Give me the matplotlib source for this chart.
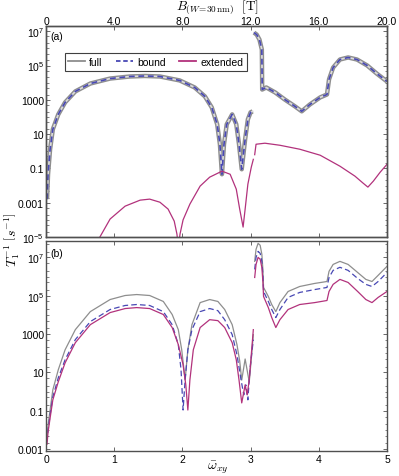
import numpy as np
import matplotlib
matplotlib.use("Agg")
import matplotlib.pyplot as plt
from matplotlib.lines import Line2D
from matplotlib.ticker import FixedLocator, LogLocator, NullFormatter

plt.rcParams['font.family'] = ['Liberation Sans', 'DejaVu Sans']
plt.rcParams['mathtext.fontset'] = 'custom'
plt.rcParams['mathtext.rm'] = 'Liberation Sans'
plt.rcParams['mathtext.it'] = 'Liberation Sans:italic'

# ---- dados (log10 da taxa 1/T1 em s^-1) ----
# painel (a): full e bound coincidem
a_full_w1 = [0.015, 0.03, 0.06, 0.10, 0.18, 0.28, 0.43, 0.65, 0.94, 1.23, 1.45, 1.67, 1.96,
             2.18, 2.33, 2.43, 2.51, 2.55, 2.58, 2.61, 2.65, 2.73, 2.79, 2.83, 2.87, 2.92,
             2.96, 3.00, 3.03]
a_full_l1 = [-2.79, -1.34, 0.12, 1.28, 2.15, 2.85, 3.49, 3.95, 4.24, 4.36, 4.39, 4.36, 4.13,
             3.72, 3.20, 2.56, 1.57, 0.41, -1.34, 0.41, 1.57, 2.15, 1.57, 0.41, -1.05, 0.70,
             1.86, 2.27, 2.33]
a_full_w2 = [3.05, 3.09, 3.13, 3.165, 3.17, 3.23, 3.36, 3.50, 3.65, 3.75, 3.87, 4.02, 4.12,
             4.15, 4.21, 4.31, 4.43, 4.56, 4.71, 4.85, 5.0]
a_full_l2 = [6.92, 6.80, 6.51, 5.93, 3.60, 3.72, 3.43, 3.02, 2.62, 2.33, 2.73, 3.14, 3.31,
             4.19, 4.88, 5.35, 5.47, 5.35, 5.00, 4.53, 4.07]

a_ext_w1 = [0.75, 0.79, 0.94, 1.16, 1.38, 1.52, 1.67, 1.79, 1.88, 1.92, 1.94, 1.965, 2.01,
            2.11, 2.26, 2.40, 2.58, 2.70, 2.79, 2.84, 2.89, 2.92, 2.96, 3.01, 3.04]
a_ext_l1 = [-5.6, -5.0, -3.95, -3.2, -2.85, -2.79, -2.97, -3.37, -4.07, -4.83, -5.6, -4.83,
            -4.0, -3.08, -2.03, -1.51, -1.16, -1.34, -2.21, -3.37, -4.42, -3.37, -1.92,
            -0.93, -0.47]
a_ext_w2 = [3.06, 3.08, 3.21, 3.43, 3.72, 4.02, 4.31, 4.53, 4.65, 4.72, 4.80, 4.90, 5.0]
a_ext_l2 = [-0.2, 0.41, 0.47, 0.35, 0.12, -0.23, -0.87, -1.45, -1.86, -2.09, -1.74, -1.22, -0.76]

# painel (b)
b_full_w1 = [0.015, 0.03, 0.06, 0.10, 0.18, 0.28, 0.43, 0.65, 0.94, 1.16, 1.33, 1.52, 1.72,
             1.85, 1.94, 1.99, 2.04, 2.08, 2.14, 2.26, 2.40, 2.52, 2.62, 2.73, 2.80, 2.84,
             2.87, 2.92, 2.98, 3.01, 3.04]
b_full_l1 = [-2.53, -1.74, -0.96, 0.09, 1.14, 2.18, 3.23, 4.17, 4.80, 5.01, 5.06, 5.01, 4.70,
             4.02, 3.23, 2.18, 0.61, 2.18, 3.49, 4.64, 4.80, 4.70, 4.28, 3.49, 2.45, 1.60,
             0.60, 1.70, 0.50, 1.70, 2.97]
b_bound_w1 = [0.015, 0.03, 0.06, 0.10, 0.18, 0.28, 0.43, 0.65, 0.94, 1.16, 1.33, 1.52, 1.72,
              1.85, 1.94, 1.98, 2.01, 2.04, 2.08, 2.14, 2.26, 2.40, 2.52, 2.62, 2.73, 2.80,
              2.86, 2.90, 2.93, 2.96, 2.99, 3.04]
b_bound_l1 = [-2.6, -2.0, -1.22, -0.28, 0.72, 1.66, 2.71, 3.65, 4.28, 4.49, 4.54, 4.49, 4.17,
              3.49, 2.45, 1.14, -0.96, 0.61, 2.18, 3.23, 4.17, 4.33, 4.22, 3.75, 2.97, 1.92,
              0.61, -0.17, 0.35, -0.43, 1.14, 2.71]
b_ext_w1 = [0.015, 0.03, 0.06, 0.10, 0.18, 0.28, 0.43, 0.65, 0.94, 1.16, 1.33, 1.52, 1.72,
            1.85, 1.94, 2.01, 2.05, 2.08, 2.11, 2.16, 2.26, 2.40, 2.52, 2.62, 2.73, 2.79,
            2.83, 2.87, 2.92, 2.95, 2.98, 3.01, 3.04]
b_ext_l1 = [-2.74, -2.11, -1.38, -0.43, 0.51, 1.50, 2.55, 3.49, 4.12, 4.33, 4.38, 4.33, 4.02,
            3.34, 2.45, 1.40, 0.35, -0.96, 0.61, 2.18, 3.34, 3.75, 3.70, 3.34, 2.55, 1.66,
            0.61, -0.59, 0.35, -0.17, 0.61, 1.92, 3.23]
b_w2 = [3.06, 3.08, 3.11, 3.14, 3.165, 3.18, 3.19, 3.26, 3.31, 3.37, 3.43, 3.55, 3.72, 3.94,
        4.12, 4.15, 4.21, 4.31, 4.43, 4.57, 4.69, 4.78, 4.87, 5.0]
b_full_l2 = [6.79, 7.42, 7.73, 7.63, 7.16, 6.37, 5.43, 4.96, 4.54, 4.17, 4.64, 5.22, 5.48, 5.64,
             5.74, 6.27, 6.63, 6.79, 6.63, 6.21, 5.85, 5.74, 6.06, 6.53]
b_bound_l2 = [6.37, 7.00, 7.31, 7.21, 6.79, 6.11, 5.22, 4.70, 4.28, 3.86, 4.28, 4.91, 5.17, 5.32,
              5.43, 5.95, 6.32, 6.48, 6.32, 5.90, 5.59, 5.48, 5.74, 6.21]
b_ext_l2 = [5.95, 6.63, 7.00, 6.90, 6.48, 5.74, 4.96, 4.38, 3.86, 3.34, 3.75, 4.28, 4.54, 4.64,
            4.75, 5.22, 5.59, 5.85, 5.69, 5.22, 4.80, 4.64, 4.91, 5.22]

y_ticks = [1e-5, 1e-3, 1e-1, 1e1, 1e3, 1e5, 1e7]
y_ticklabels = [r"$10^{-5}$", "0.001", "0.1", "10", "1000", r"$10^5$", r"$10^7$"]
x_ticks = [0, 1, 2, 3, 4, 5]
b_ticks = [0, 4, 8, 12, 16, 20]
b_ticklabels = ["0", "4.0", "8.0", "12.0", "16.0", "20.0"]

c_full = '#8e8e8e'
c_bound = '#4848b4'
c_ext = '#b2327c'
c_spine = '#505050'


def lin(l):
    return 10.0 ** np.array(l)


fig = plt.figure(figsize=(3.99, 4.77), dpi=100)
ax1 = fig.add_axes([0.1153, 0.501, 0.8546, 0.4423])
ax2 = fig.add_axes([0.1153, 0.0524, 0.8546, 0.440])

# painel (a)
for w, l in [(a_full_w1, a_full_l1), (a_full_w2, a_full_l2)]:
    ax1.plot(w, lin(l), color=c_full, lw=3.2, solid_capstyle='butt')
    ax1.plot(w, lin(l), color='#dcdcdc', lw=1.2)
    ax1.plot(w, lin(l), color=c_bound, lw=1.2, dashes=(3.5, 2.2))
for w, l in [(a_ext_w1, a_ext_l1), (a_ext_w2, a_ext_l2)]:
    ax1.plot(w, lin(l), color=c_ext, lw=0.9)

# painel (b)
for w, l in [(b_full_w1, b_full_l1), (b_w2, b_full_l2)]:
    ax2.plot(w, lin(l), color=c_full, lw=0.9)
for w, l in [(b_bound_w1, b_bound_l1), (b_w2, b_bound_l2)]:
    ax2.plot(w, lin(l), color=c_bound, lw=0.9, dashes=(4.5, 2.5))
for w, l in [(b_ext_w1, b_ext_l1), (b_w2, b_ext_l2)]:
    ax2.plot(w, lin(l), color=c_ext, lw=0.9)

ax1.set_ylim(1e-5, 2e7)
ax2.set_ylim(8e-4, 7e7)
for ax in (ax1, ax2):
    ax.set_yscale('log')
    ax.set_xlim(0, 5)
    ax.yaxis.set_major_locator(FixedLocator(y_ticks))
    ax.set_yticklabels(y_ticklabels)
    ax.yaxis.set_minor_locator(LogLocator(base=10, subs=(1.0, 2.0, 5.0), numticks=30))
    ax.yaxis.set_minor_formatter(NullFormatter())
    ax.set_xticks(x_ticks)
    ax.tick_params(which='both', direction='in', top=True, right=True,
                   color=c_spine, labelsize=7.5, pad=1.5)
    ax.tick_params(which='major', length=3, width=0.6)
    ax.tick_params(which='minor', length=1.8, width=0.5)
    for s in ax.spines.values():
        s.set_color(c_spine)
        s.set_linewidth(1.0)

ax1.tick_params(axis='x', labelbottom=False)
ax2.tick_params(axis='x', pad=2)

# eixo superior em campo magnético
axb = ax1.twiny()
axb.set_xlim(0, 20)
axb.set_xticks(b_ticks)
axb.set_xticklabels(b_ticklabels)
axb.tick_params(direction='in', length=3, width=0.6, color=c_spine, labelsize=7.5, pad=0.3)
for s in axb.spines.values():
    s.set_color(c_spine)
    s.set_linewidth(1.0)

ax1.text(0.012, 0.953, "(a)", transform=ax1.transAxes, ha='left', va='center', fontsize=7.5)
ax2.text(0.012, 0.945, "(b)", transform=ax2.transAxes, ha='left', va='center', fontsize=7.5)

handles = [Line2D([], [], color=c_full, lw=1.3),
           Line2D([], [], color=c_bound, lw=1.3, dashes=(2.5, 1.5)),
           Line2D([], [], color=c_ext, lw=1.3)]
leg = ax1.legend(handles, ["full", "bound", "extended"], loc='upper left',
                 bbox_to_anchor=(0.04, 0.895), ncol=3, fontsize=7.5, handlelength=1.6,
                 handletextpad=0.4, columnspacing=1.3, borderpad=0.35, fancybox=False,
                 framealpha=1, edgecolor='#404040')
leg.get_frame().set_linewidth(0.8)

fig.text(0.545, 0.984, r"$B_{(W\!=\!30\,\mathrm{nm})}\ \ [\mathrm{T}]$", ha='center', va='center',
         fontsize=9.5, math_fontfamily='cm')
fig.text(0.03, 0.497, r"$T_1^{-1}\ \left[s^{-1}\right]$", ha='center', va='center',
         rotation=90, fontsize=10, math_fontfamily='cm')
fig.text(0.545, 0.02, r"$\bar{\omega}_{xy}$", ha='center', va='center',
         fontsize=10, math_fontfamily='cm')

fig.savefig("out.png", dpi=100)
